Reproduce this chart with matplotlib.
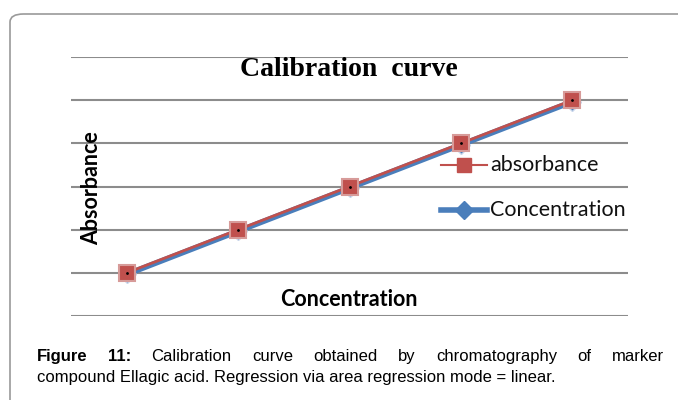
import matplotlib
matplotlib.use("Agg")
import matplotlib.pyplot as plt
import matplotlib.transforms as mtransforms
from matplotlib.patches import FancyBboxPatch

# data
points = [1, 2, 3, 4, 5]
absorbance = [1, 2, 3, 4, 5]
concentration = [1, 2, 3, 4, 5]
grid_levels = [0, 1, 2, 3, 4, 5, 6]

caption_bold = "Figure 11:"
caption_line1 = "Calibration curve obtained by chromatography of marker"
caption_line2 = "compound Ellagic acid. Regression via area regression mode = linear."

W, H = 678, 400
fig = plt.figure(figsize=(W / 100, H / 100), dpi=100)

# rounded frame running off the right and bottom edges
frame = FancyBboxPatch((10 / W, -0.2), 1.2, (H - 14) / H + 0.2,
                       boxstyle="round,pad=0,rounding_size=0.02",
                       transform=fig.transFigure, fill=False,
                       edgecolor="#9a9a9a", linewidth=1.2)
fig.patches.append(frame)

ax = fig.add_axes([71 / W, (H - 316) / H, (628 - 71) / W, (316 - 57) / H])
ax.set_xlim(0.5, 5.5)
ax.set_ylim(0, 6)
for s in ax.spines.values():
    s.set_visible(False)
ax.set_xticks([])
ax.set_yticks([])
for g in grid_levels:
    ax.axhline(g, color="#8c8c8c", linewidth=1.5, zorder=1)

blue = "#4a7ebb"
red = "#c0504d"
down = mtransforms.offset_copy(ax.transData, fig=fig, x=0, y=-1.5, units="dots")

ax.plot(points, concentration, color=blue, linewidth=4, marker="D",
        markersize=9, markerfacecolor=blue, markeredgecolor="#c9d6ea",
        transform=down, zorder=3, label="Concentration")
ax.plot(points, absorbance, color=red, linewidth=2, marker="s",
        markersize=11, markerfacecolor=red, markeredgecolor="#d79b99",
        markeredgewidth=1.5, zorder=4, label="absorbance")
ax.plot(points, absorbance, linestyle="none", marker=".", markersize=2,
        color="black", zorder=5)

# legend built by hand so the entries sit like the original
lx0, lx1 = 441 / W, 487 / W
for yy, col, lw, mk, ms, txt in [(165, red, 1.5, "s", 10, "absorbance"),
                                 (210, blue, 4, "D", 9, "Concentration")]:
    fy = (H - yy) / H
    fig.add_artist(plt.Line2D([lx0, lx1], [fy, fy], color=col, linewidth=lw,
                              transform=fig.transFigure))
    fig.add_artist(plt.Line2D([(lx0 + lx1) / 2], [fy], color=col, marker=mk,
                              markersize=ms, transform=fig.transFigure))
    fig.text(490 / W, fy, txt, fontsize=15.5, family="Lato",
             va="center", ha="left", color="#111111")

fig.text(349 / W, (H - 70) / H, "Calibration  curve", fontsize=20,
         fontweight="bold", family="Liberation Serif", ha="center", va="center")
fig.text(92 / W, (H - 188) / H, "Absorbance", fontsize=15.5, fontweight="bold",
         family="Lato", rotation=90, ha="center", va="center")
fig.text(349 / W, (H - 300) / H, "Concentration", fontsize=15.5,
         fontweight="bold", family="Lato", ha="center", va="center")

# caption, first line justified between the margins
left, right = 37 / W, 664 / W
y1, y2 = (H - 361) / H, (H - 382) / H
cap_font = dict(fontsize=12, family="Liberation Sans", va="baseline", ha="left")
fig.canvas.draw()
renderer = fig.canvas.get_renderer()
words = [(caption_bold.split()[0], "bold"), (caption_bold.split()[1], "bold")]
words += [(w, "normal") for w in caption_line1.split()]
arts = [fig.text(0, y1, w, fontweight=wt, **cap_font) for w, wt in words]
widths = [a.get_window_extent(renderer).width / W for a in arts]
gap = (right - left - sum(widths)) / (len(arts) - 1)
x = left
for a, w in zip(arts, widths):
    a.set_x(x)
    x += w + gap
fig.text(left, y2, caption_line2, **cap_font)

fig.savefig("out.png", dpi=100)
